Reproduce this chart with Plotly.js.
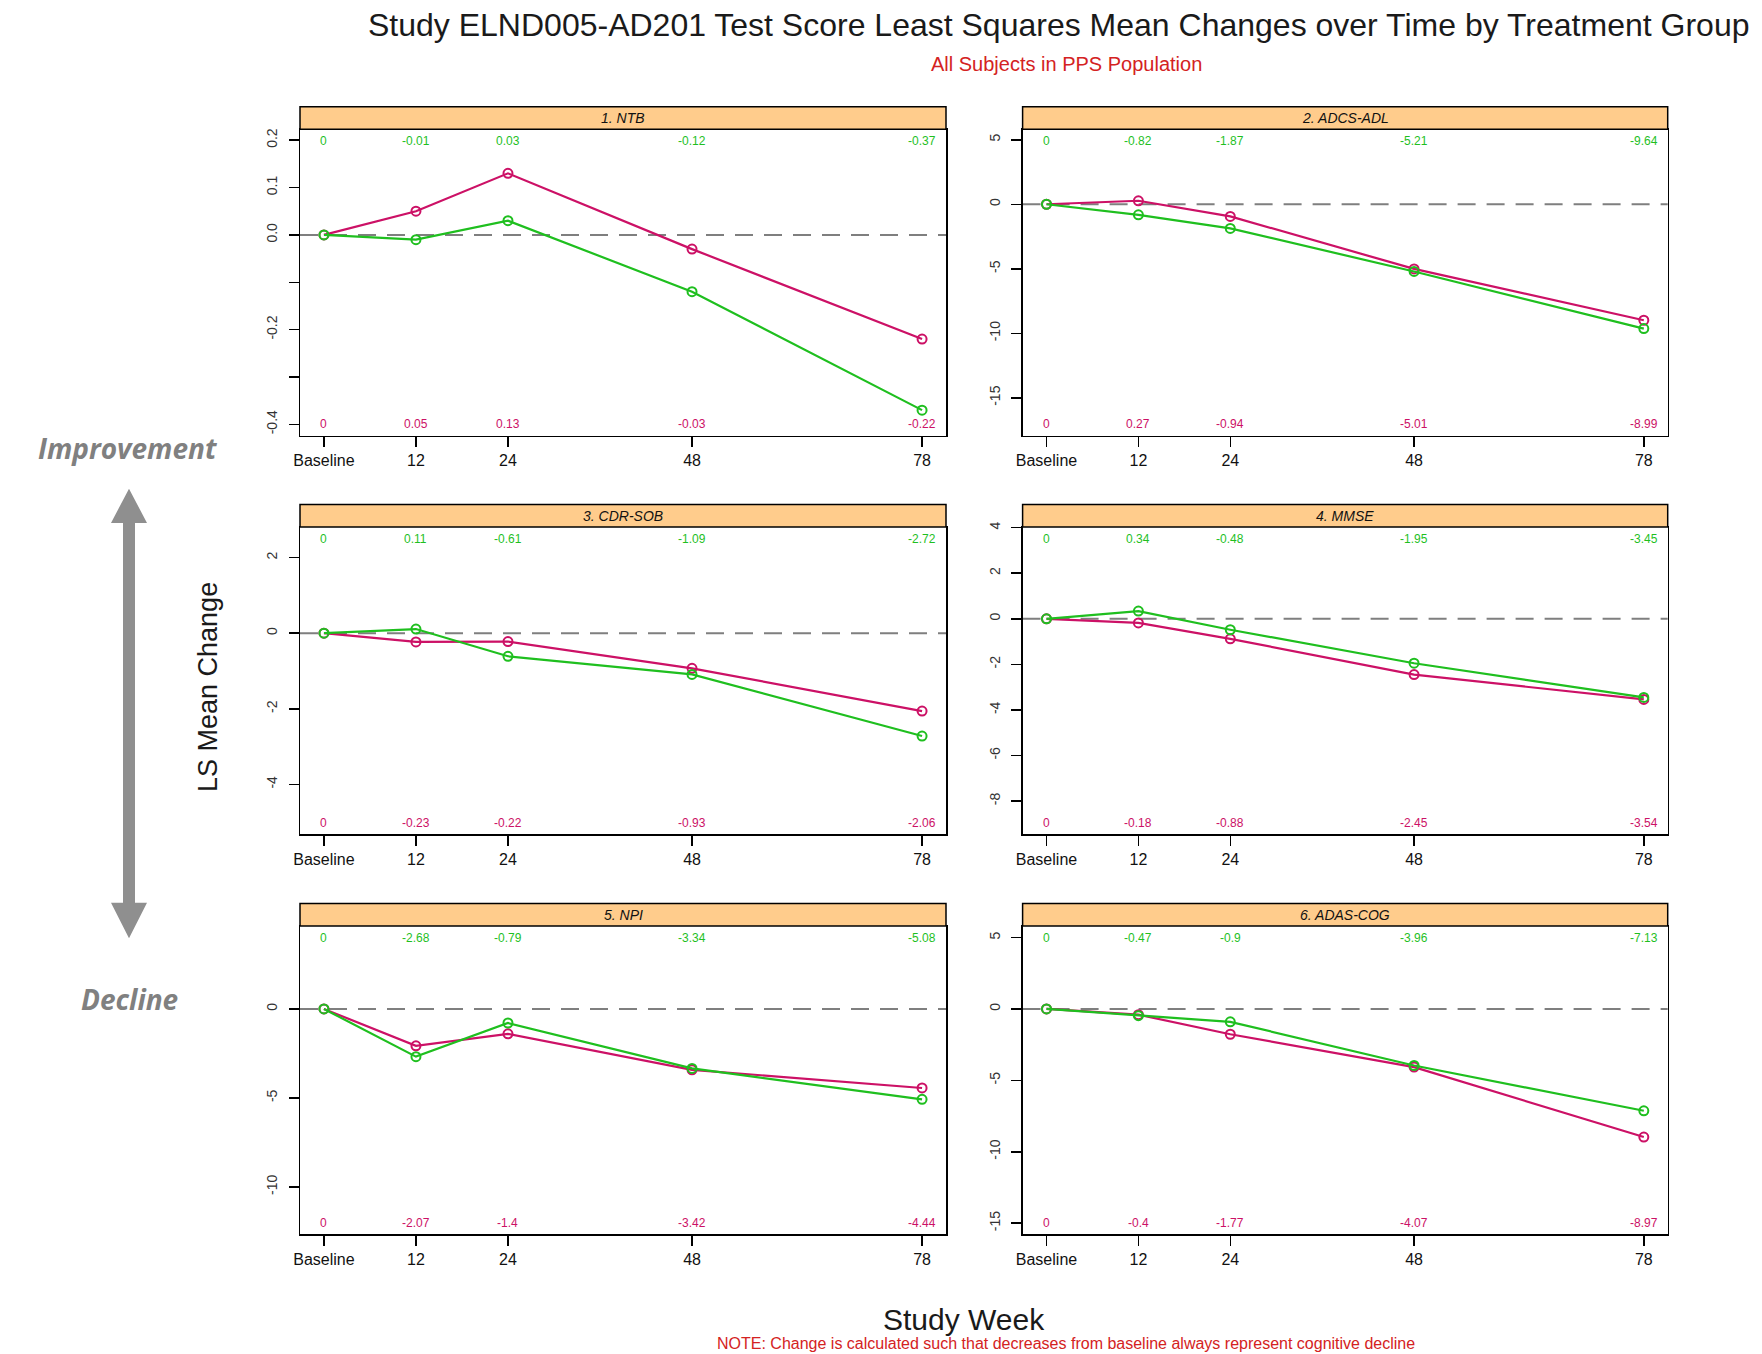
<!DOCTYPE html>
<html><head><meta charset="utf-8">
<script src="https://cdn.plot.ly/plotly-3.0.1.min.js"></script>
<style>html,body{margin:0;padding:0;background:#fff}</style>
</head><body>
<div id="chart" style="width:1762px;height:1354px"></div>
<script>
// ---------------- DATA ----------------
const weeks = [0, 12, 24, 48, 78];
const weekLabels = ["Baseline", "12", "24", "48", "78"];
const panelTitles = ["1. NTB", "2. ADCS-ADL", "3. CDR-SOB", "4. MMSE", "5. NPI", "6. ADAS-COG"];

// green series (values printed at top of each panel)
const green_NTB     = [0, -0.01, 0.03, -0.12, -0.37];
const green_ADCSADL = [0, -0.82, -1.87, -5.21, -9.64];
const green_CDRSOB  = [0, 0.11, -0.61, -1.09, -2.72];
const green_MMSE    = [0, 0.34, -0.48, -1.95, -3.45];
const green_NPI     = [0, -2.68, -0.79, -3.34, -5.08];
const green_ADASCOG = [0, -0.47, -0.9, -3.96, -7.13];

// magenta series (values printed at bottom of each panel)
const pink_NTB     = [0, 0.05, 0.13, -0.03, -0.22];
const pink_ADCSADL = [0, 0.27, -0.94, -5.01, -8.99];
const pink_CDRSOB  = [0, -0.23, -0.22, -0.93, -2.06];
const pink_MMSE    = [0, -0.18, -0.88, -2.45, -3.54];
const pink_NPI     = [0, -2.07, -1.4, -3.42, -4.44];
const pink_ADASCOG = [0, -0.4, -1.77, -4.07, -8.97];

// y tick values / labels per panel
const yTicks_NTB     = [-0.4, -0.3, -0.2, -0.1, 0, 0.1, 0.2];
const yTickText_NTB  = ["-0.4", "", "-0.2", "", "0.0", "0.1", "0.2"];
const yTicks_ADCSADL = [-15, -10, -5, 0, 5];
const yTicks_CDRSOB  = [-4, -2, 0, 2];
const yTicks_MMSE    = [-8, -6, -4, -2, 0, 2, 4];
const yTicks_NPI     = [-10, -5, 0];
const yTicks_ADASCOG = [-15, -10, -5, 0, 5];

// ---------------- LAYOUT HELPERS ----------------
const W = 1762, H = 1354;
const px = v => v / W;
const py = v => 1 - v / H;

const greenCol = "#1fbf1f";
const pinkCol = "#cc1166";
const FONT = "Liberation Sans, Arial, sans-serif";

const panels = [
  {g: green_NTB,     p: pink_NTB,     tv: yTicks_NTB,     tt: yTickText_NTB, range: [-0.424, 0.223]},
  {g: green_ADCSADL, p: pink_ADCSADL, tv: yTicks_ADCSADL, tt: null, range: [-17.94, 5.81]},
  {g: green_CDRSOB,  p: pink_CDRSOB,  tv: yTicks_CDRSOB,  tt: null, range: [-5.32, 2.81]},
  {g: green_MMSE,    p: pink_MMSE,    tv: yTicks_MMSE,    tt: null, range: [-9.46, 4.03]},
  {g: green_NPI,     p: pink_NPI,     tv: yTicks_NPI,     tt: null, range: [-12.66, 4.66]},
  {g: green_ADASCOG, p: pink_ADASCOG, tv: yTicks_ADASCOG, tt: null, range: [-15.78, 5.81]}
];

const colX = [[300, 946], [1022.6, 1667.7]];
const rowY = [[129.3, 435.7], [527, 834.3], [926, 1234.3]];
const stripH = 22.6;

const traces = [];
const shapes = [];
const annotations = [];
const layout = {
  width: W, height: H,
  margin: {l: 0, r: 0, t: 0, b: 0},
  paper_bgcolor: "#ffffff", plot_bgcolor: "#ffffff",
  showlegend: false,
  font: {family: FONT, color: "#111"}
};

panels.forEach((pn, i) => {
  const n = i + 1;
  const col = i % 2, row = Math.floor(i / 2);
  const xa = "x" + (n === 1 ? "" : n), ya = "y" + (n === 1 ? "" : n);
  const xk = "xaxis" + (n === 1 ? "" : n), yk = "yaxis" + (n === 1 ? "" : n);
  const [x0, x1] = colX[col];
  const [top, bot] = rowY[row];

  layout[xk] = {
    domain: [px(x0), px(x1)], anchor: ya, range: [-3.12, 81.12],
    tickvals: weeks, ticktext: weekLabels,
    showline: true, mirror: true, linecolor: "#000", linewidth: 1.5,
    ticks: "outside", ticklen: 10, tickwidth: 1.5, tickcolor: "#000",
    showgrid: false, zeroline: false, fixedrange: true,
    tickfont: {family: FONT, size: 16, color: "#111"}
  };
  layout[yk] = {
    domain: [py(bot), py(top)], anchor: xa, range: pn.range,
    tickvals: pn.tv, ticktext: pn.tt ? pn.tt : pn.tv.map(String),
    tickangle: -90,
    showline: true, mirror: true, linecolor: "#000", linewidth: 1.5,
    ticks: "outside", ticklen: 10, tickwidth: 1.5, tickcolor: "#000",
    ticklabelstandoff: 6,
    showgrid: false, zeroline: false, fixedrange: true,
    tickfont: {family: FONT, size: 14, color: "#333"}
  };

  // zero reference line
  shapes.push({type: "line", xref: xa + " domain", yref: ya, x0: 0, x1: 1, y0: 0, y1: 0,
    line: {color: "#7f7f7f", width: 2, dash: "18px,11px"}, layer: "below"});

  // strip
  shapes.push({type: "rect", xref: "paper", yref: "paper",
    x0: px(x0), x1: px(x1), y0: py(top), y1: py(top - stripH),
    fillcolor: "#ffcc8c", line: {color: "#000", width: 1.5}});
  annotations.push({xref: "paper", yref: "paper", x: (px(x0) + px(x1)) / 2, y: py(top - stripH / 2),
    text: "<i>" + panelTitles[i] + "</i>", showarrow: false, xanchor: "center", yanchor: "middle",
    font: {family: FONT, size: 14, color: "#111"}});

  traces.push({x: weeks, y: pn.p, xaxis: xa, yaxis: ya, type: "scatter", mode: "lines+markers",
    line: {color: pinkCol, width: 2.2},
    marker: {symbol: "circle-open", size: 9, color: pinkCol, line: {width: 2, color: pinkCol}},
    hoverinfo: "skip"});
  traces.push({x: weeks, y: pn.g, xaxis: xa, yaxis: ya, type: "scatter", mode: "lines+markers",
    line: {color: greenCol, width: 2.2},
    marker: {symbol: "circle-open", size: 9, color: greenCol, line: {width: 2, color: greenCol}},
    hoverinfo: "skip"});

  weeks.forEach((w, k) => {
    annotations.push({xref: xa, yref: ya + " domain", x: w, y: 0.9625, text: String(pn.g[k]),
      showarrow: false, xanchor: "center", yanchor: "middle",
      font: {family: FONT, size: 12, color: greenCol}});
    annotations.push({xref: xa, yref: ya + " domain", x: w, y: 0.0375, text: String(pn.p[k]),
      showarrow: false, xanchor: "center", yanchor: "middle",
      font: {family: FONT, size: 12, color: pinkCol}});
  });
});

// double-headed arrow
const arrowPts = [[123, 523], [111, 523], [129, 488.7], [147, 523], [135, 523],
                  [135, 902.8], [147, 902.8], [129, 938.3], [111, 902.8], [123, 902.8]];
shapes.push({type: "path", xref: "paper", yref: "paper",
  path: "M " + arrowPts.map(p => px(p[0]) + "," + py(p[1])).join(" L ") + " Z",
  fillcolor: "#8f8f8f", line: {width: 0}});

// titles and side texts
annotations.push({xref: "paper", yref: "paper", x: px(366), y: py(25), xanchor: "left", yanchor: "middle",
  text: "Study ELND005-AD201 Test Score Least Squares Mean Changes over Time by Treatment Group",
  showarrow: false, font: {family: FONT, size: 32, color: "#1a1a1a"}});
annotations.push({xref: "paper", yref: "paper", x: px(1066), y: py(64), xanchor: "center", yanchor: "middle",
  text: "All Subjects in PPS Population", showarrow: false, font: {family: FONT, size: 20, color: "#d42222"}});
annotations.push({xref: "paper", yref: "paper", x: px(964), y: py(1319), xanchor: "center", yanchor: "middle",
  text: "Study Week", showarrow: false, font: {family: FONT, size: 30, color: "#1a1a1a"}});
annotations.push({xref: "paper", yref: "paper", x: px(1066), y: py(1343), xanchor: "center", yanchor: "middle",
  text: "NOTE: Change is calculated such that decreases from baseline always represent cognitive decline",
  showarrow: false, font: {family: FONT, size: 16, color: "#d42222"}});
annotations.push({xref: "paper", yref: "paper", x: px(208), y: py(687), xanchor: "center", yanchor: "middle",
  text: "LS Mean Change", textangle: -90, showarrow: false, font: {family: FONT, size: 27, color: "#1a1a1a"}});
annotations.push({xref: "paper", yref: "paper", x: px(128), y: py(448), xanchor: "center", yanchor: "middle",
  text: "<b><i>Improvement</i></b>", showarrow: false, font: {family: "Open Sans, sans-serif", size: 28, color: "#808080"}});
annotations.push({xref: "paper", yref: "paper", x: px(129.5), y: py(999), xanchor: "center", yanchor: "middle",
  text: "<b><i>Decline</i></b>", showarrow: false, font: {family: "Open Sans, sans-serif", size: 28, color: "#808080"}});

layout.shapes = shapes;
layout.annotations = annotations;

Plotly.newPlot("chart", traces, layout, {displayModeBar: false, staticPlot: true});
</script>
</body></html>
